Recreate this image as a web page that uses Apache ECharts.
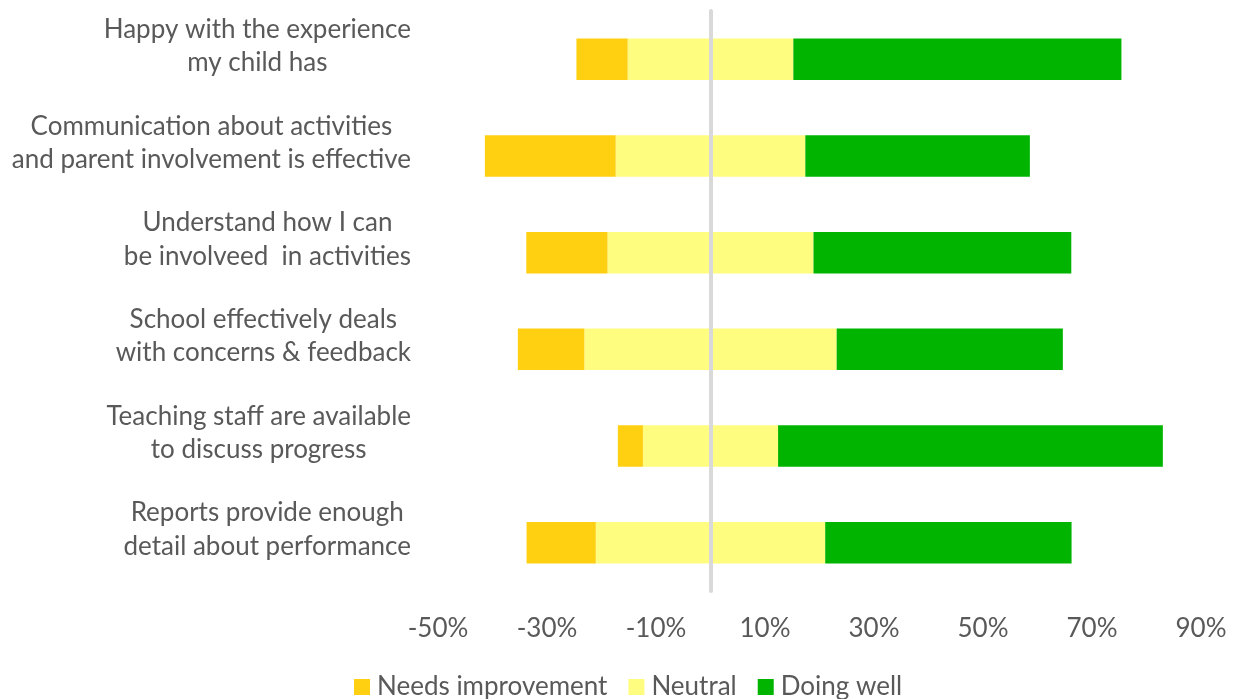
<!DOCTYPE html>
<html>
<head>
<meta charset="utf-8">
<title>Parent survey</title>
<script src="https://cdn.jsdelivr.net/npm/echarts@6/dist/echarts.min.js"></script>
<style>
  html, body { margin: 0; padding: 0; background: #ffffff; }
  #chart { width: 1233px; height: 699px; }
</style>
</head>
<body>
<div id="chart"></div>
<script>
// Survey statements (two lines each), top to bottom
const categories = [
  'Happy with the experience\nmy child has',
  'Communication about activities\nand parent involvement is effective',
  'Understand how I can\nbe involveed  in activities',
  'School effectively deals\nwith concerns & feedback',
  'Teaching staff are available\nto discuss progress',
  'Reports provide enough\ndetail about performance'
];

// Share of responses, in percent
const needsImprovement = [9.4, 24.0, 14.9, 12.2, 4.6, 12.7];
const neutral          = [30.4, 34.8, 37.8, 46.3, 24.8, 42.1];
const doingWell        = [60.2, 41.2, 47.3, 41.5, 70.6, 45.2];

// Value axis ticks
const tickValues = [-50, -30, -10, 10, 30, 50, 70, 90];

const FONT = 'Lato';
const TEXT = '#595959';
const C_NEEDS = '#FFCF12';
const C_NEUTRAL = '#FFFD80';
const C_WELL = '#00B400';

// Neutral is split evenly around zero; needs-improvement sits on the negative side
const neutralLeft  = neutral.map(v => -v / 2);
const neutralRight = neutral.map(v => v / 2);
const needsNeg     = needsImprovement.map(v => -v);

const chart = echarts.init(document.getElementById('chart'), null, { renderer: 'canvas' });

const barCommon = {
  type: 'bar',
  stack: 'total',
  barWidth: '43%',
  silent: true
};

chart.setOption({
  animation: false,
  backgroundColor: '#ffffff',
  textStyle: { fontFamily: FONT, color: TEXT },
  grid: { left: 438, right: 32, top: 11, bottom: 108, containLabel: false },
  legend: {
    left: 354,
    top: 674,
    padding: 0,
    icon: 'rect',
    itemWidth: 16,
    itemHeight: 16,
    itemGap: 21,
    selectedMode: false,
    data: ['Needs improvement', 'Neutral', 'Doing well'],
    textStyle: { fontFamily: FONT, fontSize: 26, color: TEXT, lineHeight: 26, padding: [0, 0, 0, 2] }
  },
  xAxis: {
    type: 'value',
    min: tickValues[0],
    max: tickValues[tickValues.length - 1],
    interval: tickValues[1] - tickValues[0],
    axisLine: { show: false },
    axisTick: { show: false },
    splitLine: { show: false },
    axisLabel: {
      margin: 25,
      fontFamily: FONT,
      fontSize: 26,
      lineHeight: 26,
      color: TEXT,
      formatter: v => v + '%'
    }
  },
  yAxis: [
    {
      type: 'category',
      data: categories,
      inverse: true,
      axisLine: { show: false, onZero: false },
      axisTick: { show: false },
      splitLine: { show: false },
      axisLabel: {
        margin: 27,
        color: TEXT,
        padding: [0, 0, 26, 0],
        formatter: v => v.split('\n').map(line => '{c|' + line + '}').join('\n'),
        rich: {
          c: { align: 'center', fontFamily: FONT, fontSize: 26, lineHeight: 33.4, color: TEXT }
        }
      }
    },
    {
      // zero reference line drawn above the bars
      type: 'category',
      data: categories,
      inverse: true,
      z: 10,
      axisLine: { show: true, onZero: true, lineStyle: { color: '#D9D9D9', width: 4 } },
      axisTick: { show: false },
      axisLabel: { show: false },
      splitLine: { show: false }
    }
  ],
  series: [
    Object.assign({}, barCommon, { name: 'Neutral', data: neutralLeft, itemStyle: { color: C_NEUTRAL } }),
    Object.assign({}, barCommon, { name: 'Needs improvement', data: needsNeg, itemStyle: { color: C_NEEDS } }),
    Object.assign({}, barCommon, { name: 'Neutral', data: neutralRight, itemStyle: { color: C_NEUTRAL } }),
    Object.assign({}, barCommon, { name: 'Doing well', data: doingWell, itemStyle: { color: C_WELL } })
  ]
});
</script>
</body>
</html>
